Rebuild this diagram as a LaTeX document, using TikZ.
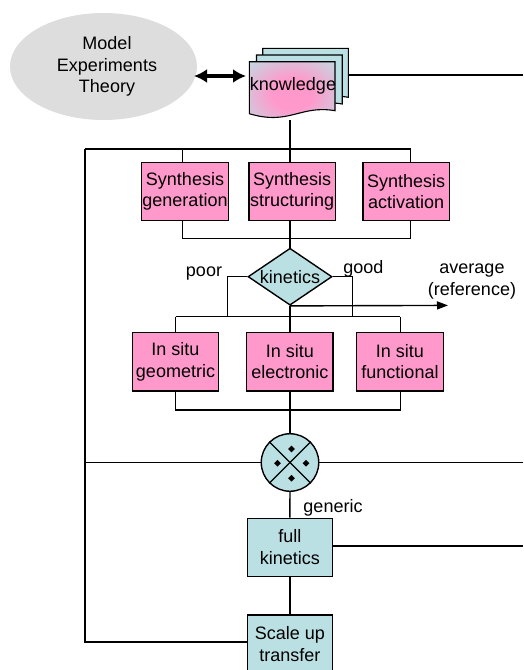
\documentclass[tikz,border=0pt]{standalone}
\usepackage{fontspec}
\setmainfont{Liberation Sans}
\usetikzlibrary{shapes.geometric,arrows.meta}
\definecolor{pinkbox}{RGB}{255,153,204}
\definecolor{lblue}{RGB}{187,224,227}
\definecolor{ellgray}{RGB}{221,221,221}
\pgfdeclareradialshading{knowshade}{\pgfpoint{0bp}{0bp}}{color(0bp)=(pinkbox); color(12bp)=(pinkbox); color(38bp)=(lblue); color(50bp)=(lblue)}
\newcommand{\docpath}[2]{(#1,#2) -- ++(85.7,0) -- ++(0,49) .. controls ++(-35,-6) and ++(40,12) .. ++(-85.7,3) -- cycle}
\begin{document}
\begin{tikzpicture}[x=1pt,y=-1pt,
  line width=1.4pt,
  every node/.style={font=\fontsize{18}{21.5}\selectfont, align=center, inner sep=0pt},
  pbox/.style={draw, fill=pinkbox, minimum width=86.5, minimum height=58.3},
  bbox/.style={draw, fill=lblue, minimum width=85, minimum height=58},
  conn/.style={line width=1.4pt}
]
\useasboundingbox (0,0) rectangle (523,670);
\clip (0,0) rectangle (523,670);

% ellipse
\node[ellipse, fill=ellgray, minimum width=187, minimum height=107] (ell) at (103.5,66.5) {};
\node (elltext) at (107,66.5) {Model\\Experiments\\Theory};

% knowledge multi-document
\draw[fill=lblue, line width=1.1pt] \docpath{262.7}{48.3};
\draw[fill=lblue, line width=1.1pt] \docpath{256.5}{55};
\shade[shading=knowshade] \docpath{249.3}{61.7};
\draw[line width=1.1pt] \docpath{249.3}{61.7};
\node (know) at (293,86) {knowledge};
\coordinate (kbot) at (290,120);
\coordinate (kright) at (348.3,75);
\coordinate (rt1) at (523,75);
\draw[conn] (kright) -- (rt1);

% double arrow
\coordinate (da1) at (194,76);
\coordinate (da2) at (246,76);
\draw[line width=3.6pt, {Latex[length=13pt,width=14pt]}-{Latex[length=13pt,width=14pt]}] (da1) -- (da2);

% top bus
\coordinate (busL) at (85,149);
\coordinate (bus1) at (182.3,149);
\coordinate (bus2) at (290,149);
\coordinate (bus3) at (410.7,149);
\draw[conn] (kbot) -- (bus2);
\draw[conn] (busL) -- (bus3);

% synthesis boxes
\node[pbox] (s1) at (185,191.5) {Synthesis\\generation};
\node[pbox] (s2) at (292.2,191.5) {Synthesis\\structuring};
\node[pbox] (s3) at (406.2,191.5) {Synthesis\\activation};
\draw[conn] (bus1) -- (bus1 |- s1.north);
\draw[conn] (bus2) -- (bus2 |- s2.north);
\draw[conn] (bus3) -- (bus3 |- s3.north);

\coordinate (lb1) at (182.3,238.3);
\coordinate (lb2) at (290,238.3);
\coordinate (lb3) at (410.7,238.3);
\draw[conn] (lb1 |- s1.south) -- (lb1) -- (lb3) -- (lb3 |- s3.south);
\draw[conn] (lb2 |- s2.south) -- (lb2);

% kinetics diamond
\node[diamond, draw, fill=lblue, minimum width=84, minimum height=57] (kin) at (290,276.7) {};
\node (kintext) at (kin) {kinetics};
\draw[conn] (lb2) -- (kin.north);

\node (poor) at (204,273.3) {poor};
\node (good) at (363.3,269) {good};
\node (avg) at (472,281.5) {average\\(reference)};

\coordinate (ib1) at (175.7,316.7);
\coordinate (ib2) at (290,316.7);
\coordinate (ib3) at (400.3,316.7);
\coordinate (pk) at (227.7,316.7);
\coordinate (gk) at (352.3,316.7);
\draw[conn] (kin.west) -- (pk |- kin.west) -- (pk);
\draw[conn] (kin.east) -- (gk |- kin.east) -- (gk);
\coordinate (avgend) at (448,305.4);
\draw[conn, -{Triangle[length=11pt,width=8pt]}] (kin.south) -- (avgend);
\draw[conn] (kin.south) -- (ib2);
\draw[conn] (ib1) -- (ib3);

% in situ boxes
\node[pbox] (i1) at (175.5,361.7) {In situ\\geometric};
\node[pbox] (i2) at (289.8,361.7) {In situ\\electronic};
\node[pbox] (i3) at (400,361.7) {In situ\\functional};
\draw[conn] (ib1) -- (ib1 |- i1.north);
\draw[conn] (ib2) -- (ib2 |- i2.north);
\draw[conn] (ib3) -- (ib3 |- i3.north);

\coordinate (jb1) at (175.7,410);
\coordinate (jb2) at (290,410);
\coordinate (jb3) at (400.3,410);
\draw[conn] (jb1 |- i1.south) -- (jb1) -- (jb3) -- (jb3 |- i3.south);
\draw[conn] (jb2 |- i2.south) -- (jb2);

% mixer circle
\node[circle, draw, fill=lblue, minimum size=57.5] (mix) at (290,462.5) {};
\draw[line width=1.1pt] (mix.45) -- (mix.225);
\draw[line width=1.1pt] (mix.135) -- (mix.315);
\foreach \dx/\dy in {1.5/-13.5, -12.5/0.8, 16/0.8, 1.5/15.8} {
  \fill ([shift={(\dx,\dy)}]mix.center) ++(0,-3.4) -- ++(3.4,3.4) -- ++(-3.4,3.4) -- ++(-3.4,-3.4) -- cycle;
}
\draw[conn] (jb2) -- (mix.north);
\coordinate (mixL) at (85,462.5);
\coordinate (mixR) at (523,462.5);
\draw[conn] (mixL) -- (mix.west);
\draw[conn] (mix.east) -- (mixR);

% full kinetics
\node (generic) at (333,508) {generic};
\node[bbox] (fk) at (289.8,547.2) {full\\kinetics};
\draw[conn] (mix.south) -- (fk.north);
\coordinate (fkR) at (523,546);
\draw[conn] (fk.east |- fkR) -- (fkR);

% scale up
\node[bbox] (su) at (289.8,644) {Scale up\\transfer};
\draw[conn] (fk.south) -- (su.north);
\coordinate (suL) at (85,642);
\draw[conn] (busL) -- (suL) -- (su.west |- suL);
\end{tikzpicture}
\end{document}
